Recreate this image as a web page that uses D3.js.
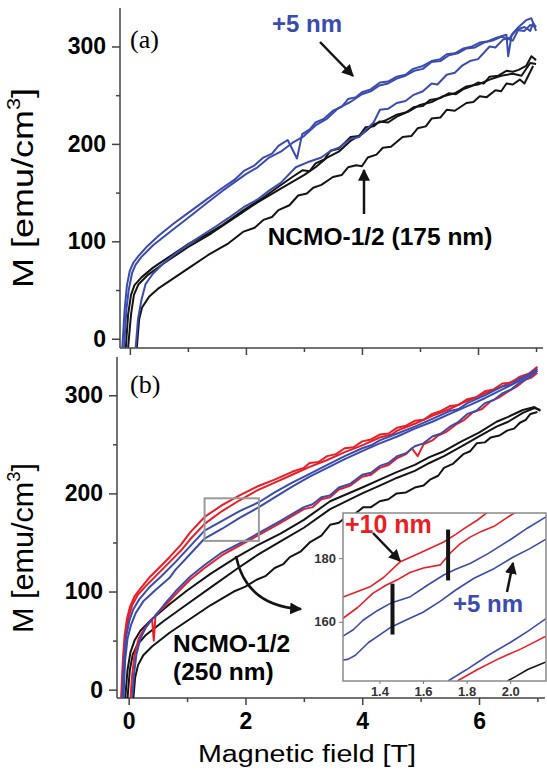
<!DOCTYPE html>
<html>
<head>
<meta charset="utf-8">
<script src="https://cdn.jsdelivr.net/npm/d3@7"></script>
<style>
  html, body { margin: 0; padding: 0; background: #fff; }
  svg { display: block; }
  text { font-family: "Liberation Sans", Arial, sans-serif; }
</style>
</head>
<body>
<svg id="chart" width="547" height="772"></svg>
<script>
// Tick values
const xMajor = [0, 2, 4, 6];
const xMinor = [1, 3, 5, 7];
const yMajor = [0, 100, 200, 300];
const yMinor = [50, 150, 250];
const insetXTicks = [1.4, 1.6, 1.8, 2.0];
const insetYTicks = [160, 180];

// Panel (a): NCMO-1/2 (175 nm) and +5 nm, [field T, M emu/cm3]
const aBlueUp1 = [[-0.13,-9],[-0.09,30],[-0.05,55],[0.0,70],[0.06,78],[0.15,85],[0.3,95],[0.5,106],[0.75,118],[1.0,129],[1.3,142],[1.6,155],[1.8,163],[1.96,172],[2.15,178],[2.3,186],[2.45,190],[2.56,198],[2.72,204],[2.88,185],[2.97,210],[3.1,215],[3.2,222],[3.35,226],[3.5,234],[3.65,238],[3.76,246],[3.9,248],[4.0,253],[4.15,256],[4.31,263],[4.45,264],[4.6,269],[4.75,271],[4.88,277],[5.05,280],[5.2,285],[5.35,287],[5.46,292],[5.6,293],[5.75,298],[5.9,300],[6.03,304],[6.15,305],[6.32,309],[6.49,312],[6.52,290],[6.58,312],[6.7,320],[6.83,327],[6.92,329],[7.0,316]];
const aBlueUp2 = [[-0.1,-9],[-0.06,30],[-0.02,50],[0.04,68],[0.1,76],[0.2,84],[0.4,96],[0.7,110],[1.0,124],[1.3,138],[1.6,152],[2.0,169],[2.2,176],[2.4,186],[2.6,192],[2.8,201],[3.0,208],[3.2,219],[3.4,226],[3.6,237],[3.8,243],[4.0,251],[4.15,254],[4.3,260],[4.45,262],[4.6,267],[4.75,270],[4.9,275],[5.05,277],[5.2,284],[5.35,285],[5.5,291],[5.65,293],[5.8,298],[5.95,299],[6.1,304],[6.25,306],[6.4,310],[6.6,306],[6.7,318],[6.8,320],[6.9,316],[6.95,324],[7.0,320]];
const aBlueLow = [[0.1,-9],[0.14,20],[0.2,40],[0.27,56],[0.4,67],[0.57,77],[0.8,88],[1.11,101],[1.5,116],[1.7,124],[1.96,135],[2.2,143],[2.4,152],[2.6,160],[2.86,176],[3.1,182],[3.3,186],[3.46,193],[3.6,196],[3.8,205],[3.95,207],[4.06,214],[4.2,222],[4.31,235],[4.45,236],[4.6,242],[4.75,244],[4.88,250],[5.05,254],[5.2,262],[5.3,261],[5.46,271],[5.6,273],[5.72,280],[5.86,285],[6.0,287],[6.2,300],[6.3,299],[6.43,307],[6.55,309],[6.66,317],[6.8,316],[6.9,322],[7.0,320]];
const aBlackUp1 = [[-0.07,-9],[-0.03,25],[0.02,45],[0.08,55],[0.2,63],[0.4,73],[0.75,87],[1.0,97],[1.35,108],[1.6,117],[1.96,132],[2.3,145],[2.56,156],[2.8,166],[2.98,173],[3.1,172],[3.2,180],[3.35,184],[3.46,193],[3.6,195],[3.8,207],[3.95,208],[4.06,217],[4.2,218],[4.3,223],[4.45,222],[4.6,228],[4.75,232],[4.9,238],[5.05,239],[5.17,245],[5.35,247],[5.5,252],[5.62,251],[5.74,256],[5.88,259],[6.0,263],[6.1,262],[6.2,269],[6.35,270],[6.49,275],[6.6,274],[6.7,276],[6.83,280],[6.92,290],[7.0,286]];
const aBlackUp2 = [[-0.03,-9],[0.02,25],[0.07,45],[0.15,56],[0.3,65],[0.6,78],[1.0,94],[1.4,108],[1.8,124],[2.2,140],[2.6,154],[3.0,168],[3.2,176],[3.4,186],[3.6,192],[3.8,203],[4.0,210],[4.2,220],[4.4,224],[4.6,230],[4.8,233],[5.0,240],[5.2,243],[5.4,249],[5.6,252],[5.8,259],[6.0,261],[6.2,266],[6.4,270],[6.6,272],[6.75,270],[6.9,283],[7.0,282]];
const aBlackLow = [[0.12,-9],[0.16,20],[0.21,32],[0.33,43],[0.5,52],[0.75,62],[1.0,72],[1.35,86],[1.7,98],[1.96,110],[2.15,114],[2.3,122],[2.45,125],[2.56,132],[2.75,137],[2.9,147],[3.05,149],[3.16,155],[3.3,158],[3.5,166],[3.65,168],[3.76,176],[3.9,178],[4.0,177],[4.1,186],[4.25,189],[4.36,196],[4.5,197],[4.7,207],[4.85,208],[4.96,216],[5.1,218],[5.2,226],[5.35,227],[5.46,235],[5.6,234],[5.8,242],[5.92,243],[6.03,249],[6.15,248],[6.3,255],[6.4,254],[6.49,262],[6.6,261],[6.72,266],[6.8,262],[6.95,280]];

// Panel (b): NCMO-1/2 (250 nm), +5 nm and +10 nm
const bRedUp1 = [[-0.13,-9],[-0.1,30],[-0.07,55],[-0.03,72],[0.02,84],[0.1,95],[0.2,103],[0.35,114],[0.5,123],[0.7,135],[0.9,148],[1.05,160],[1.3,176],[1.6,188],[1.9,198],[2.2,207],[2.5,214],[2.8,222],[3.0,226],[3.1,231],[3.25,232],[3.4,238],[3.55,240],[3.7,246],[3.85,247],[4.0,253],[4.15,255],[4.3,260],[4.45,261],[4.6,267],[4.75,269],[4.9,274],[5.05,275],[5.2,281],[5.35,284],[5.5,289],[5.65,290],[5.8,296],[5.95,298],[6.1,304],[6.25,306],[6.4,312],[6.55,313],[6.7,319],[6.85,322],[7.0,329]];
const bRedUp2 = [[-0.12,-9],[-0.09,30],[-0.05,58],[0.0,74],[0.06,86],[0.15,96],[0.3,106],[0.5,118],[0.7,130],[0.9,142],[1.05,153],[1.3,169],[1.6,182],[1.9,193],[2.2,203],[2.5,211],[2.8,219],[3.1,227],[3.4,234],[3.7,242],[4.0,249],[4.3,257],[4.5,260],[4.6,264],[4.9,271],[5.2,279],[5.5,286],[5.7,292],[5.8,294],[6.1,302],[6.4,309],[6.7,318],[6.85,321],[7.0,327]];
const bBlueUp1 = [[-0.11,-9],[-0.08,30],[-0.04,55],[0.01,70],[0.08,82],[0.18,92],[0.35,104],[0.55,115],[0.8,130],[1.05,146],[1.3,162],[1.6,172],[1.9,182],[2.23,191],[2.5,201],[2.8,211],[3.1,220],[3.4,229],[3.7,238],[4.0,246],[4.15,249],[4.3,254],[4.6,261],[4.9,268],[5.2,276],[5.5,284],[5.65,286],[5.8,292],[6.1,300],[6.4,309],[6.55,311],[6.7,317],[6.85,321],[7.0,327]];
const bBlueUp2 = [[-0.09,-9],[-0.06,30],[-0.02,52],[0.04,66],[0.12,78],[0.25,90],[0.45,101],[0.7,114],[0.8,122],[1.05,138],[1.3,154],[1.6,164],[1.9,175],[2.23,186],[2.5,196],[2.8,207],[3.1,217],[3.4,226],[3.7,235],[4.0,243],[4.3,251],[4.6,258],[4.9,266],[5.2,273],[5.5,281],[5.8,289],[6.1,297],[6.4,306],[6.7,315],[7.0,325]];
const bBlueLow = [[0.06,-9],[0.09,15],[0.13,35],[0.2,52],[0.3,64],[0.45,75],[0.6,86],[0.8,100],[1.05,115],[1.3,127],[1.6,140],[2.0,152],[2.3,162],[2.6,172],[3.0,186],[3.15,189],[3.3,196],[3.45,198],[3.6,206],[3.8,210],[4.0,219],[4.15,221],[4.3,228],[4.45,231],[4.6,238],[4.75,241],[4.9,248],[5.05,251],[5.2,258],[5.35,261],[5.5,268],[5.65,273],[5.8,281],[5.95,284],[6.1,292],[6.25,295],[6.4,302],[6.55,306],[6.7,313],[6.85,318],[7.0,325]];
const bRedLow = [[0.03,-9],[0.06,15],[0.1,35],[0.17,52],[0.28,63],[0.4,72],[0.43,50],[0.46,76],[0.6,84],[0.8,97],[1.05,112],[1.3,124],[1.6,137],[2.0,150],[2.3,160],[2.6,170],[3.0,184],[3.15,186],[3.3,194],[3.45,196],[3.6,204],[3.8,208],[4.0,217],[4.15,219],[4.3,226],[4.45,229],[4.6,236],[4.75,240],[4.85,246],[4.95,238],[5.05,250],[5.2,254],[5.3,259],[5.45,263],[5.6,270],[5.75,275],[5.9,283],[6.05,286],[6.2,294],[6.35,298],[6.5,304],[6.65,309],[6.8,316],[6.9,318],[7.0,323]];
const bBlackUp1 = [[-0.06,-9],[-0.02,20],[0.03,38],[0.1,50],[0.2,60],[0.4,72],[0.7,87],[1.0,101],[1.4,118],[1.85,135],[2.2,147],[2.6,159],[3.0,173],[3.45,192],[4.0,206],[4.3,214],[4.6,222],[4.9,229],[5.15,237],[5.4,243],[5.7,253],[6.0,262],[6.3,273],[6.5,278],[6.75,285],[6.95,288],[7.05,284]];
const bBlackUp2 = [[-0.02,-9],[0.02,20],[0.07,36],[0.15,46],[0.3,56],[0.6,70],[1.0,87],[1.4,104],[1.85,123],[2.2,137],[2.6,151],[3.0,165],[3.45,184],[4.0,200],[4.3,208],[4.6,216],[4.9,223],[5.15,231],[5.4,238],[5.7,248],[6.0,258],[6.3,268],[6.5,273],[6.75,282],[6.95,287],[7.05,285]];
const bBlackLow = [[0.08,-9],[0.11,12],[0.16,25],[0.25,35],[0.4,44],[0.7,58],[1.0,70],[1.4,86],[1.8,100],[2.0,105],[2.19,112],[2.35,116],[2.5,124],[2.65,128],[2.76,135],[2.95,141],[3.1,150],[3.3,157],[3.45,168],[3.6,170],[3.7,175],[3.85,178],[4.02,186],[4.15,186],[4.3,192],[4.45,194],[4.59,200],[4.75,201],[4.9,206],[5.05,208],[5.16,214],[5.3,218],[5.4,226],[5.55,230],[5.73,240],[5.85,243],[5.96,251],[6.1,252],[6.2,257],[6.35,259],[6.48,264],[6.6,266],[6.7,272],[6.8,275],[6.88,281],[7.0,283]];

// Inset of panel (b), zoom on 1.3-2.2 T
const insetRed1 = [[1.233,167.8],[1.3,169.5],[1.357,171],[1.42,174],[1.496,178.9],[1.588,181.7],[1.695,185.1],[1.75,187.5],[1.795,189.6],[1.85,192],[1.897,194.5]];
const insetRed2 = [[1.233,161.1],[1.3,164.5],[1.371,169],[1.43,171.5],[1.482,173.2],[1.54,175.5],[1.602,176.9],[1.68,177.9],[1.726,181.7],[1.77,184.5],[1.818,186.7],[1.87,188.5],[1.926,190],[1.98,192.5],[2.026,194.5]];
const insetBlue1 = [[1.233,155.5],[1.28,157.5],[1.325,160.5],[1.39,163.5],[1.45,165.8],[1.542,167.9],[1.62,171.5],[1.695,174.7],[1.75,176.5],[1.818,178.4],[1.9,181.5],[2.0,185.8],[2.08,189.5],[2.164,193]];
const insetBlue2 = [[1.233,148],[1.255,148.2],[1.29,149.5],[1.35,153.5],[1.45,158.2],[1.52,160.5],[1.6,163],[1.68,166.5],[1.75,170],[1.834,173.7],[1.92,176.5],[2.01,180.2],[2.09,183],[2.164,186]];
const insetBlue3 = [[1.715,141.4],[1.8,145],[1.9,149.5],[2.0,153.5],[2.08,157],[2.164,161]];
const insetRed3 = [[1.757,141.4],[1.85,145],[1.95,148.5],[2.05,151.5],[2.164,155.5]];
const insetBlack3 = [[1.987,141.4],[2.03,143],[2.08,145],[2.164,147.4]];
// Vertical marker bars drawn in the inset: [field, M from, M to]
const insetBars = [[1.46, 156, 172], [1.715, 173, 189]];

const BLUE = '#3b4cb0', RED = '#ec1d25', BLACK = '#141414', AXIS = '#444';

const svg = d3.select('#chart');

const defs = svg.append('defs');
defs.append('marker')
    .attr('id', 'head')
    .attr('viewBox', '0 0 10 10')
    .attr('refX', 9).attr('refY', 5)
    .attr('markerWidth', 12).attr('markerHeight', 12)
    .attr('markerUnits', 'userSpaceOnUse')
    .attr('orient', 'auto')
  .append('path')
    .attr('d', 'M0,0 L10,5 L0,10 Z')
    .attr('fill', BLACK);

function drawAxes(g, x, y, showXLabels) {
  const [x0, x1] = x.range();
  const [y0, y1] = y.range();

  // axis lines
  g.append('line').attr('x1', x0).attr('x2', x0).attr('y1', y0).attr('y2', y1)
    .attr('stroke', AXIS).attr('stroke-width', 1.5);
  g.append('line').attr('x1', x0).attr('x2', x1).attr('y1', y0).attr('y2', y0)
    .attr('stroke', AXIS).attr('stroke-width', 1.5);

  const yAx = g.append('g').attr('transform', `translate(${x0},0)`)
    .call(d3.axisLeft(y).tickValues(yMajor).tickSize(8).tickSizeOuter(0).tickPadding(6));
  g.append('g').attr('transform', `translate(${x0},0)`)
    .call(d3.axisLeft(y).tickValues(yMinor).tickSize(4).tickSizeOuter(0).tickFormat(''));

  const xAx = g.append('g').attr('transform', `translate(0,${y0})`)
    .call(d3.axisBottom(x).tickValues(xMajor).tickSize(7).tickSizeOuter(0).tickPadding(8)
      .tickFormat(showXLabels ? d3.format('d') : ''));
  g.append('g').attr('transform', `translate(0,${y0})`)
    .call(d3.axisBottom(x).tickValues(xMinor).tickSize(4).tickSizeOuter(0).tickFormat(''));

  g.selectAll('.domain').remove();
  g.selectAll('.tick line').attr('stroke', AXIS).attr('stroke-width', 1.5);
  yAx.selectAll('text').attr('font-size', 23).attr('font-weight', 'bold').attr('fill', '#000')
    .style('font-family', '"Liberation Sans", Arial, sans-serif');
  xAx.selectAll('text').attr('font-size', 23).attr('font-weight', 'bold').attr('fill', '#000')
    .style('font-family', '"Liberation Sans", Arial, sans-serif');
}

function drawSeries(g, x, y, series, width, clipId) {
  const line = d3.line().x(d => x(d[0])).y(d => y(d[1]));
  const holder = g.append('g').attr('clip-path', `url(#${clipId})`);
  series.forEach(s => {
    holder.append('path')
      .datum(s.pts)
      .attr('d', line)
      .attr('fill', 'none')
      .attr('stroke', s.color)
      .attr('stroke-width', width)
      .attr('stroke-linejoin', 'round');
  });
}

function addClip(id, x, y) {
  defs.append('clipPath').attr('id', id).append('rect')
    .attr('x', x.range()[0]).attr('y', y.range()[1])
    .attr('width', x.range()[1] - x.range()[0])
    .attr('height', y.range()[0] - y.range()[1]);
}

// Rotated axis title; the figure's title is drawn longer than the font's natural width.
function yTitle(cx, cy, len) {
  const t = svg.append('text')
    .attr('transform', `translate(${cx},${cy}) rotate(-90)`)
    .attr('text-anchor', 'middle')
    .attr('font-size', 30)
    .attr('textLength', len).attr('lengthAdjust', 'spacingAndGlyphs')
    .attr('fill', '#000');
  t.append('tspan').text('M [emu/cm');
  t.append('tspan').attr('font-size', 18).attr('dy', -13).text('3');
  t.append('tspan').attr('dy', 13).text(']');
}

function arrow(d, width = 2.5) {
  svg.append('path').attr('d', d).attr('fill', 'none')
    .attr('stroke', BLACK).attr('stroke-width', width)
    .attr('marker-end', 'url(#head)');
}

function label(x, y, str, opts = {}) {
  return svg.append('text')
    .attr('x', x).attr('y', y)
    .attr('text-anchor', opts.anchor || 'start')
    .attr('font-size', opts.size || 24)
    .attr('font-weight', opts.weight || 'bold')
    .attr('fill', opts.color || '#000')
    .style('font-family', opts.family || '"Liberation Sans", Arial, sans-serif')
    .text(str);
}

// ---------- panel (a) ----------
const xa = d3.scaleLinear().domain([-0.17, 7.12]).range([120, 543]);
const ya = d3.scaleLinear().domain([-9.5, 339.5]).range([348, 8]);
const ga = svg.append('g');
addClip('clipA', xa, ya);
drawAxes(ga, xa, ya, false);
drawSeries(ga, xa, ya, [
  { pts: aBlackLow, color: BLACK },
  { pts: aBlackUp2, color: BLACK },
  { pts: aBlackUp1, color: BLACK },
  { pts: aBlueLow, color: BLUE },
  { pts: aBlueUp2, color: BLUE },
  { pts: aBlueUp1, color: BLUE }
], 2, 'clipA');
yTitle(33, 188, 200);
label(130, 48, '(a)', { family: '"Liberation Serif", "Times New Roman", serif', weight: 'normal', size: 26 });
label(307, 32, '+5 nm', { anchor: 'middle', color: BLUE });
label(380, 245, 'NCMO-1/2 (175 nm)', { anchor: 'middle', size: 24.5 });
arrow('M320,42 L353,76');
arrow('M364,214 L364,170');

// ---------- panel (b) ----------
const xb = d3.scaleLinear().domain([-0.2, 7.13]).range([117, 545]);
const yb = d3.scaleLinear().domain([-8.5, 339]).range([698, 357]);
const gb = svg.append('g');
addClip('clipB', xb, yb);
drawAxes(gb, xb, yb, true);
drawSeries(gb, xb, yb, [
  { pts: bBlackLow, color: BLACK },
  { pts: bBlackUp2, color: BLACK },
  { pts: bBlackUp1, color: BLACK },
  { pts: bRedLow, color: RED },
  { pts: bBlueLow, color: BLUE },
  { pts: bRedUp2, color: RED },
  { pts: bRedUp1, color: RED },
  { pts: bBlueUp2, color: BLUE },
  { pts: bBlueUp1, color: BLUE }
], 2, 'clipB');

// zoom box marking the inset region
svg.append('rect')
  .attr('x', xb(1.3)).attr('y', yb(195))
  .attr('width', xb(2.23) - xb(1.3)).attr('height', yb(151.6) - yb(195))
  .attr('fill', 'none').attr('stroke', '#9a9a9a').attr('stroke-width', 2);

yTitle(33, 548, 170);
label(130, 393, '(b)', { family: '"Liberation Serif", "Times New Roman", serif', weight: 'normal', size: 26 });
label(173, 652, 'NCMO-1/2', { size: 24.5 });
label(173, 680, '(250 nm)', { size: 24.5 });
arrow('M236,556 Q246,606 301,609');

// x axis title
svg.append('text')
  .attr('x', 198).attr('y', 762)
  .attr('font-size', 23)
  .attr('textLength', 218).attr('lengthAdjust', 'spacingAndGlyphs')
  .attr('fill', '#000')
  .text('Magnetic field [T]');

// ---------- inset ----------
const xi = d3.scaleLinear().domain([1.233, 2.164]).range([343, 546]);
const yi = d3.scaleLinear().domain([141.4, 194.2]).range([681, 513]);
const gi = svg.append('g');
gi.append('rect')
  .attr('x', 343).attr('y', 513).attr('width', 203).attr('height', 168)
  .attr('fill', '#fff');
addClip('clipI', xi, yi);
drawSeries(gi, xi, yi, [
  { pts: insetBlack3, color: BLACK },
  { pts: insetRed3, color: RED },
  { pts: insetBlue3, color: BLUE },
  { pts: insetBlue2, color: BLUE },
  { pts: insetBlue1, color: BLUE },
  { pts: insetRed2, color: RED },
  { pts: insetRed1, color: RED }
], 1.6, 'clipI');

gi.selectAll('.bar')
  .data(insetBars)
  .enter().append('line')
  .attr('x1', d => xi(d[0])).attr('x2', d => xi(d[0]))
  .attr('y1', d => yi(d[1])).attr('y2', d => yi(d[2]))
  .attr('stroke', BLACK).attr('stroke-width', 4);

gi.append('rect')
  .attr('x', 343).attr('y', 513).attr('width', 203).attr('height', 168)
  .attr('fill', 'none').attr('stroke', '#8a8a8a').attr('stroke-width', 1.5);

const ixAx = gi.append('g').attr('transform', 'translate(0,681)')
  .call(d3.axisBottom(xi).tickValues(insetXTicks).tickSize(3).tickPadding(3).tickFormat(d3.format('.1f')));
const iyAx = gi.append('g').attr('transform', 'translate(343,0)')
  .call(d3.axisLeft(yi).tickValues(insetYTicks).tickSize(4).tickPadding(3));
[ixAx, iyAx].forEach(a => {
  a.select('.domain').remove();
  a.selectAll('.tick line').attr('stroke', '#777');
  a.selectAll('text').attr('font-size', 13).attr('font-weight', 'bold').attr('fill', '#333')
    .style('font-family', '"Liberation Sans", Arial, sans-serif');
});

label(345, 533, '+10 nm', { color: RED, size: 25 });
label(488, 612, '+5 nm', { anchor: 'middle', color: BLUE, size: 24 });
arrow('M373,533 L400,561', 2.5);
arrow('M507,592 L513,563', 2.5);
</script>
</body>
</html>
